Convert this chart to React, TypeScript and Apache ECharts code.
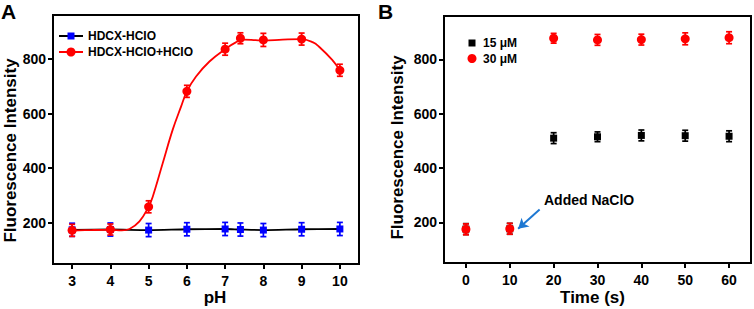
import React, { useEffect, useRef } from "react";
import * as echarts from "echarts";

// Panel A data
const phValues = [3, 4, 5, 6, 7, 7.4, 8, 9, 10];
const controlA = [175, 176, 174, 177, 178, 176, 174, 177, 178];
const controlErrA = [24, 24, 24, 24, 24, 24, 24, 24, 24];
const probeA = [173, 176, 259, 681, 835, 875, 869, 872, 758];
const probeErrA = [22, 20, 22, 22, 22, 20, 24, 22, 22];
const fitX = [3, 3.5, 4, 4.3, 4.5, 4.76, 5, 5.11, 5.37, 5.63, 5.85, 6, 6.24, 6.59, 7, 7.28, 7.5, 7.8, 8, 8.5, 9, 9.3, 9.45, 9.8, 10];
const fitY = [172, 174, 175, 173, 178, 206, 259, 297, 419, 541, 626, 681, 735, 790, 835, 860, 870, 868, 867, 870, 872, 860, 845, 796, 758];
const phTicks = [3, 4, 5, 6, 7, 8, 9, 10];

// Panel B data
const timeValues = [0, 10, 20, 30, 40, 50, 60];
const low15 = [175, 176, 510, 515, 520, 519, 517];
const lowErr = [20, 20, 20, 18, 20, 20, 20];
const high30 = [174, 176, 878, 872, 873, 876, 880];
const highErr = [20, 20, 18, 20, 20, 22, 22];
const timeTicks = [0, 10, 20, 30, 40, 50, 60];

const yTicks = [200, 400, 600, 800];
const FONT = "'Liberation Sans', Arial, sans-serif";

const RED = "#ff0000";
const BLUE = "#0000ff";
const BLACK = "#000000";

function errSeries(name: string, xi: number, xs: number[], ys: number[], es: number[], color: string, z: number) {
  return {
    type: "custom",
    name,
    xAxisIndex: xi,
    yAxisIndex: xi,
    z,
    silent: true,
    data: xs.map((x, i) => [x, ys[i], es[i]]),
    encode: { x: 0, y: 1 },
    renderItem: (params: any, api: any) => {
      const x = api.value(0);
      const y = api.value(1);
      const e = api.value(2);
      const t = api.coord([x, y + e]);
      const b = api.coord([x, y - e]);
      const hw = 3;
      const st = { stroke: color, lineWidth: 1.7 };
      return {
        type: "group",
        children: [
          { type: "line", shape: { x1: t[0], y1: t[1], x2: b[0], y2: b[1] }, style: st },
          { type: "line", shape: { x1: t[0] - hw, y1: t[1], x2: t[0] + hw, y2: t[1] }, style: st },
          { type: "line", shape: { x1: b[0] - hw, y1: b[1], x2: b[0] + hw, y2: b[1] }, style: st },
        ],
      };
    },
  };
}

function scatter(name: string, xi: number, xs: number[], ys: number[], color: string, symbol: string, size: number, z: number) {
  return {
    type: "scatter",
    name,
    xAxisIndex: xi,
    yAxisIndex: xi,
    z,
    symbol,
    symbolSize: size,
    itemStyle: { color, opacity: 1 },
    data: xs.map((x, i) => [x, ys[i]]),
  };
}

const axisCommon = {
  axisLine: { show: true, onZero: false, lineStyle: { color: BLACK, width: 2 } },
  axisTick: { show: true, inside: false, length: 5, lineStyle: { color: BLACK, width: 2 } },
  splitLine: { show: false },
  axisLabel: { color: BLACK, fontSize: 14, fontWeight: "bold", fontFamily: FONT },
};

export default function App() {
  const ref = useRef<HTMLDivElement>(null);
  useEffect(() => {
    document.body.style.margin = "0";
    const chart = echarts.init(ref.current!, null, { renderer: "svg" });
    const option: any = {
      animation: false,
      backgroundColor: "#ffffff",
      grid: [
        { left: 53, top: 15, width: 306, height: 249, show: true, borderColor: BLACK, borderWidth: 2, backgroundColor: "transparent" },
        { left: 444, top: 16, width: 307, height: 247, show: true, borderColor: BLACK, borderWidth: 2, backgroundColor: "transparent" },
      ],
      xAxis: [
        {
          ...axisCommon,
          type: "value",
          gridIndex: 0,
          min: 2.5,
          max: 10.5,
          axisTick: { ...axisCommon.axisTick, customValues: phTicks },
          axisLabel: { ...axisCommon.axisLabel, margin: 10, customValues: phTicks },
        },
        {
          ...axisCommon,
          type: "value",
          gridIndex: 1,
          min: -5,
          max: 65,
          axisTick: { ...axisCommon.axisTick, customValues: timeTicks },
          axisLabel: { ...axisCommon.axisLabel, margin: 10, customValues: timeTicks },
        },
      ],
      yAxis: [
        {
          ...axisCommon,
          type: "value",
          gridIndex: 0,
          min: 50,
          max: 960,
          axisTick: { ...axisCommon.axisTick, customValues: yTicks },
          axisLabel: { ...axisCommon.axisLabel, margin: 7, customValues: yTicks },
        },
        {
          ...axisCommon,
          type: "value",
          gridIndex: 1,
          min: 50,
          max: 960,
          axisTick: { ...axisCommon.axisTick, customValues: yTicks },
          axisLabel: { ...axisCommon.axisLabel, margin: 7, customValues: yTicks },
        },
      ],
      series: [
        {
          type: "line",
          name: "HDCX-HCIO fit",
          xAxisIndex: 0,
          yAxisIndex: 0,
          z: 2,
          showSymbol: false,
          symbol: "none",
          smooth: 0.3,
          lineStyle: { color: BLACK, width: 1.8 },
          data: phValues.map((x, i) => [x, controlA[i]]),
        },
        errSeries("HDCX-HCIO err", 0, phValues, controlA, controlErrA, BLUE, 3),
        scatter("HDCX-HCIO", 0, phValues, controlA, BLUE, "rect", 7, 4),
        {
          type: "line",
          name: "HDCX-HCIO+HCIO fit",
          xAxisIndex: 0,
          yAxisIndex: 0,
          z: 5,
          showSymbol: false,
          symbol: "none",
          smooth: 0.4,
          lineStyle: { color: RED, width: 1.8 },
          data: fitX.map((x, i) => [x, fitY[i]]),
        },
        errSeries("HDCX-HCIO+HCIO err", 0, phValues, probeA, probeErrA, RED, 6),
        scatter("HDCX-HCIO+HCIO", 0, phValues, probeA, RED, "circle", 9, 7),

        errSeries("15 μM err", 1, timeValues, low15, lowErr, BLACK, 3),
        scatter("15 μM", 1, timeValues, low15, BLACK, "rect", 7, 4),
        errSeries("30 μM err", 1, timeValues, high30, highErr, RED, 6),
        {
          ...scatter("30 μM", 1, timeValues, high30, RED, "circle", 9, 7),
          markLine: {
            silent: true,
            symbol: ["none", "arrow"],
            symbolSize: [9, 10],
            label: { show: false },
            lineStyle: { color: "#1e78d2", width: 2, type: "solid" },
            data: [[{ coord: [16.8, 247] }, { coord: [11.9, 176] }]],
          },
        },
      ],
      graphic: [
        { type: "text", x: 1, y: 11, style: { text: "A", font: `bold 21px ${FONT}`, fill: BLACK, textAlign: "left", textVerticalAlign: "middle" } },
        { type: "text", x: 378, y: 11, style: { text: "B", font: `bold 21px ${FONT}`, fill: BLACK, textAlign: "left", textVerticalAlign: "middle" } },
        { type: "text", x: 10, y: 150.5, rotation: Math.PI / 2, style: { text: "Fluorescence Intensity", font: `bold 17px ${FONT}`, fill: BLACK, textAlign: "center", textVerticalAlign: "middle" } },
        { type: "text", x: 397, y: 147.5, rotation: Math.PI / 2, style: { text: "Fluorescence Intensity", font: `bold 17px ${FONT}`, fill: BLACK, textAlign: "center", textVerticalAlign: "middle" } },
        { type: "text", x: 215, y: 297.5, style: { text: "pH", font: `bold 17px ${FONT}`, fill: BLACK, textAlign: "center", textVerticalAlign: "middle" } },
        { type: "text", x: 592.5, y: 297.5, style: { text: "Time (s)", font: `bold 17px ${FONT}`, fill: BLACK, textAlign: "center", textVerticalAlign: "middle" } },
        // Legend A
        { type: "line", shape: { x1: 59, y1: 36, x2: 83, y2: 36 }, style: { stroke: BLACK, lineWidth: 2 } },
        { type: "rect", shape: { x: 67.5, y: 32.5, width: 7, height: 7 }, style: { fill: BLUE } },
        { type: "text", x: 88, y: 36, style: { text: "HDCX-HCIO", font: `bold 12px ${FONT}`, fill: BLACK, textAlign: "left", textVerticalAlign: "middle" } },
        { type: "line", shape: { x1: 59, y1: 52, x2: 83, y2: 52 }, style: { stroke: RED, lineWidth: 2 } },
        { type: "circle", shape: { cx: 71, cy: 52, r: 4.5 }, style: { fill: RED } },
        { type: "text", x: 88, y: 52, style: { text: "HDCX-HCIO+HCIO", font: `bold 12px ${FONT}`, fill: BLACK, textAlign: "left", textVerticalAlign: "middle" } },
        // Legend B
        { type: "rect", shape: { x: 468.5, y: 39.5, width: 7, height: 7 }, style: { fill: BLACK } },
        { type: "text", x: 483, y: 43, style: { text: "15 μM", font: `bold 12px ${FONT}`, fill: BLACK, textAlign: "left", textVerticalAlign: "middle" } },
        { type: "circle", shape: { cx: 472, cy: 58.5, r: 4.5 }, style: { fill: RED } },
        { type: "text", x: 483, y: 58.5, style: { text: "30 μM", font: `bold 12px ${FONT}`, fill: BLACK, textAlign: "left", textVerticalAlign: "middle" } },
        // Annotation
        { type: "text", x: 544, y: 200, style: { text: "Added NaClO", font: `bold 14px ${FONT}`, fill: BLACK, textAlign: "left", textVerticalAlign: "middle" } },
      ],
    };
    chart.setOption(option);
    return () => chart.dispose();
  }, []);
  return <div ref={ref} style={{ width: 754, height: 309 }} />;
}
